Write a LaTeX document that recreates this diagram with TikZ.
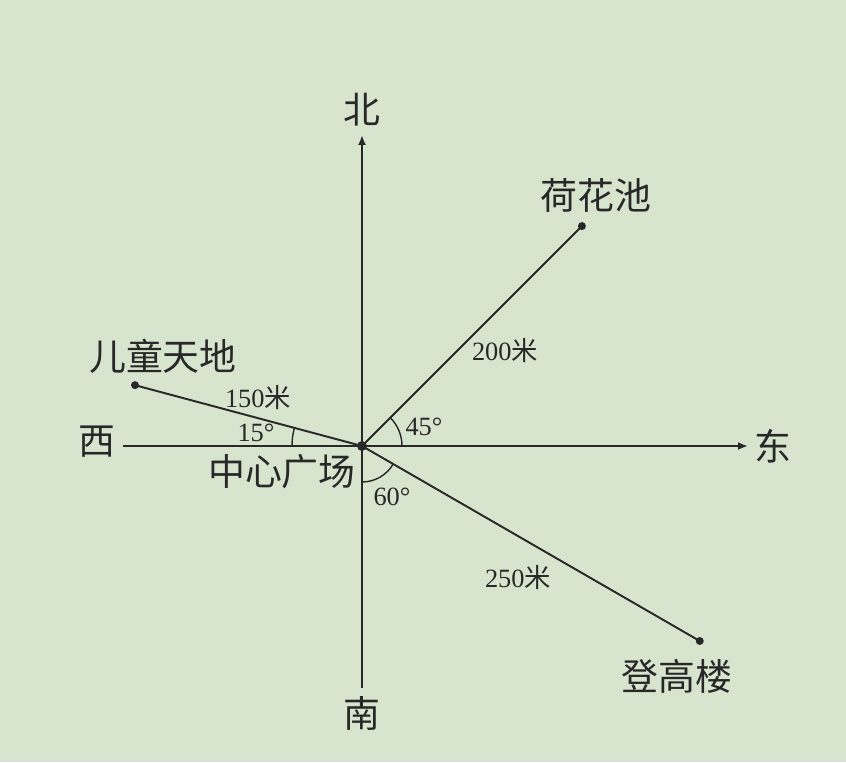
\documentclass[tikz,border=0pt]{standalone}
\usepackage{fontspec}
\setmainfont{Liberation Serif}
\newfontfamily\cjk{Noto Sans CJK SC}
\usetikzlibrary{arrows.meta}
\definecolor{bg}{RGB}{215,229,207}
\definecolor{ink}{RGB}{40,40,40}
\tikzset{
  axis/.style={draw=ink,line width=1.1pt,-{Latex[length=2mm,width=1.6mm]}},
  road/.style={draw=ink,line width=1.1pt},
  place/.style={font=\fontsize{21}{24}\selectfont\cjk,text=ink,inner sep=0pt},
  dist/.style={font=\fontsize{15}{17}\selectfont,text=ink,inner sep=0pt},
}

\begin{document}
\begin{tikzpicture}
\fill[bg] (-7.24,-6.32) rectangle (9.68,8.92);
\useasboundingbox (-7.24,-6.32) rectangle (9.68,8.92);
\coordinate (O) at (0,0);
\coordinate (N) at (0,6.22);
\coordinate (S) at (0,-4.84);
\coordinate (E) at (7.72,0);
\coordinate (W) at (-4.78,0);
\coordinate (lake) at (45:6.22);
\coordinate (kids) at (165:4.7);
\coordinate (tower) at (-30:7.8);
% axes
\draw[axis] (S) -- (N);
\draw[road] (W) -- (O);
\draw[axis] (O) -- (E);
% roads
\draw[road] (O) -- (lake);
\draw[road] (O) -- (kids);
\draw[road] (O) -- (tower);
\foreach \p in {lake,kids,tower} \fill[ink] (\p) circle (0.08);
\fill[ink] (O) circle (0.1);
% angles
\draw[road,line width=0.8pt] (0.8,0) arc (0:45:0.8);
\draw[road,line width=0.8pt] (-1.4,0) arc (180:165:1.4);
\draw[road,line width=0.8pt] (0,-0.72) arc (270:330:0.72);
% labels
\node[place] (north) at (0,6.72) {北};
\node[place] (south) at (0,-5.34) {南};
\node[place] (east) at (8.22,0) {东};
\node[place] (west) at (-5.3,0.08) {西};
\node[place] (lakename) at (4.68,5.02) {荷花池};
\node[place] (kidsname) at (-3.98,1.8) {儿童天地};
\node[place] (towername) at (6.3,-4.6) {登高楼};
\node[place] (centre) at (-1.6,-0.52) {中心广场};
\node[dist] (d200) at (2.86,1.92) {200{\cjk 米}};
\node[dist] (d150) at (-2.08,0.98) {150{\cjk 米}};
\node[dist] (d250) at (3.12,-2.62) {250{\cjk 米}};
\node[dist] (a15) at (-2.12,0.26) {15°};
\node[dist] (a45) at (1.24,0.38) {45°};
\node[dist] (a60) at (0.6,-1.02) {60°};
\end{tikzpicture}
\end{document}
